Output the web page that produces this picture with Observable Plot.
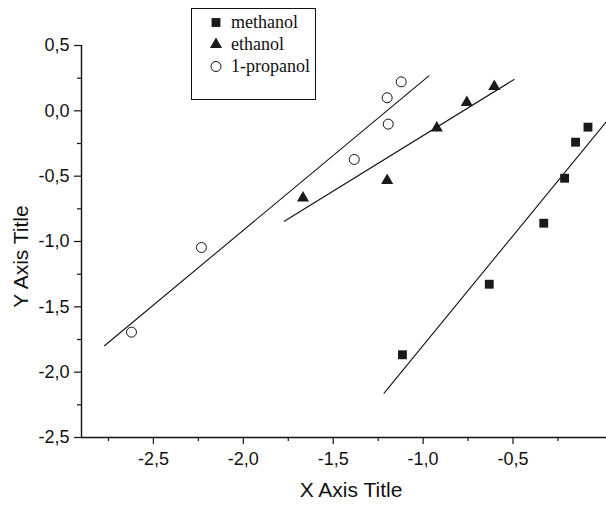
<!DOCTYPE html>
<html>
<head>
<meta charset="utf-8">
<script src="https://cdn.jsdelivr.net/npm/d3@7"></script>
<script src="https://cdn.jsdelivr.net/npm/@observablehq/plot@0.6"></script>
<style>
  body { margin: 0; background: #fff; }
  #wrap { position: relative; width: 606px; height: 505px; background: #fff; }
  #legend { position: absolute; left: 191px; top: 8px; }
  #legend text { font-family: "Liberation Serif", "Times New Roman", serif; font-size: 18px; fill: #111; }
</style>
</head>
<body>
<div id="wrap"><div id="legend"></div></div>
<script>
// ---- data ----
const seriesNames = ["methanol", "ethanol", "1-propanol"];

const methanolX = [-1.115, -0.632, -0.329, -0.213, -0.152, -0.083];
const methanolY = [-1.867, -1.327, -0.860, -0.516, -0.240, -0.125];

const ethanolX = [-1.668, -1.200, -0.924, -0.757, -0.604];
const ethanolY = [-0.667, -0.533, -0.131, 0.064, 0.186];

const propanolX = [-2.622, -2.233, -1.383, -1.200, -1.194, -1.122];
const propanolY = [-1.694, -1.046, -0.372, 0.100, -0.102, 0.222];

// fitted straight lines (end points)
const fitMethanolX = [-1.217, 0.02];
const fitMethanolY = [-2.161, -0.081];
const fitEthanolX = [-1.772, -0.494];
const fitEthanolY = [-0.845, 0.240];
const fitPropanolX = [-2.772, -0.968];
const fitPropanolY = [-1.798, 0.268];

const xMajor = [-2.5, -2.0, -1.5, -1.0, -0.5];
const xMinor = [-2.75, -2.25, -1.75, -1.25, -0.75, -0.25];
const yMajor = [-2.5, -2.0, -1.5, -1.0, -0.5, 0.0, 0.5];
const yMinor = [-2.25, -1.75, -1.25, -0.75, -0.25, 0.25];

const xTitle = "X Axis Title";
const yTitle = "Y Axis Title";

// ---- helpers ----
const pts = (xs, ys) => xs.map((x, i) => ({x, y: ys[i]}));
const fmt = d => (d < 0 ? "-" : "") + Math.abs(d).toFixed(1).replace(".", ",");
const sans = "Liberation Sans, Arial, Helvetica, sans-serif";

const chart = Plot.plot({
  width: 606,
  height: 505,
  marginLeft: 81,
  marginRight: 0,
  marginTop: 45,
  marginBottom: 68,
  style: {background: "#fff", fontFamily: sans, color: "#111", overflow: "visible"},
  x: {domain: [-2.9, 0.02]},
  y: {domain: [-2.5, 0.5]},
  marks: [
    Plot.line(pts(fitPropanolX, fitPropanolY), {x: "x", y: "y", stroke: "#111", strokeWidth: 1.1}),
    Plot.line(pts(fitEthanolX, fitEthanolY), {x: "x", y: "y", stroke: "#111", strokeWidth: 1.1}),
    Plot.line(pts(fitMethanolX, fitMethanolY), {x: "x", y: "y", stroke: "#111", strokeWidth: 1.1}),
    Plot.dot(pts(methanolX, methanolY), {x: "x", y: "y", symbol: "square", r: 5, fill: "#1a1a1a", stroke: "none"}),
    Plot.dot(pts(ethanolX, ethanolY), {x: "x", y: "y", symbol: "triangle", r: 4.5, fill: "#1a1a1a", stroke: "none"}),
    Plot.dot(pts(propanolX, propanolY), {x: "x", y: "y", symbol: "circle", r: 5, fill: "#fff", stroke: "#111", strokeWidth: 1}),
    Plot.ruleX([-2.9], {stroke: "#111", strokeWidth: 1.4}),
    Plot.ruleY([-2.5], {stroke: "#111", strokeWidth: 1.4}),
    Plot.axisX(xMajor, {tickSize: 7, tickPadding: 8, tickFormat: fmt, fontSize: 18, label: null, strokeWidth: 1.2}),
    Plot.axisX(xMinor, {tickSize: 4, tickFormat: () => "", label: null, strokeWidth: 1.2}),
    Plot.axisY(yMajor, {tickSize: 7, tickPadding: 5, tickFormat: fmt, fontSize: 18, label: null, strokeWidth: 1.2}),
    Plot.axisY(yMinor, {tickSize: 4, tickFormat: () => "", label: null, strokeWidth: 1.2}),
    Plot.text([xTitle], {frameAnchor: "bottom", text: d => d, textAnchor: "middle", dx: 7, dy: 59, fontSize: 21, fill: "#111"}),
    Plot.text([yTitle], {frameAnchor: "left", text: d => d, textAnchor: "middle", rotate: -90, dx: -60, dy: 15, fontSize: 21, fill: "#111"})
  ]
});
document.getElementById("wrap").insertBefore(chart, document.getElementById("legend"));

// ---- legend ----
const lg = d3.select("#legend").append("svg").attr("width", 126).attr("height", 93);
lg.append("rect").attr("x", 0.5).attr("y", 0.5).attr("width", 124).attr("height", 91)
  .attr("fill", "#fff").attr("stroke", "#111").attr("stroke-width", 1);
const symbols = [d3.symbolSquare, d3.symbolTriangle, d3.symbolCircle];
const sizes = [Math.PI * 25, Math.PI * 20.25, Math.PI * 25];
seriesNames.forEach((name, i) => {
  const cy = 14.5 + i * 22;
  lg.append("path")
    .attr("transform", `translate(25,${cy})`)
    .attr("d", d3.symbol(symbols[i], sizes[i])())
    .attr("fill", i === 2 ? "#fff" : "#1a1a1a")
    .attr("stroke", i === 2 ? "#111" : "none");
  lg.append("text").attr("x", 40).attr("y", cy + 5.5).text(name);
});
</script>
</body>
</html>
